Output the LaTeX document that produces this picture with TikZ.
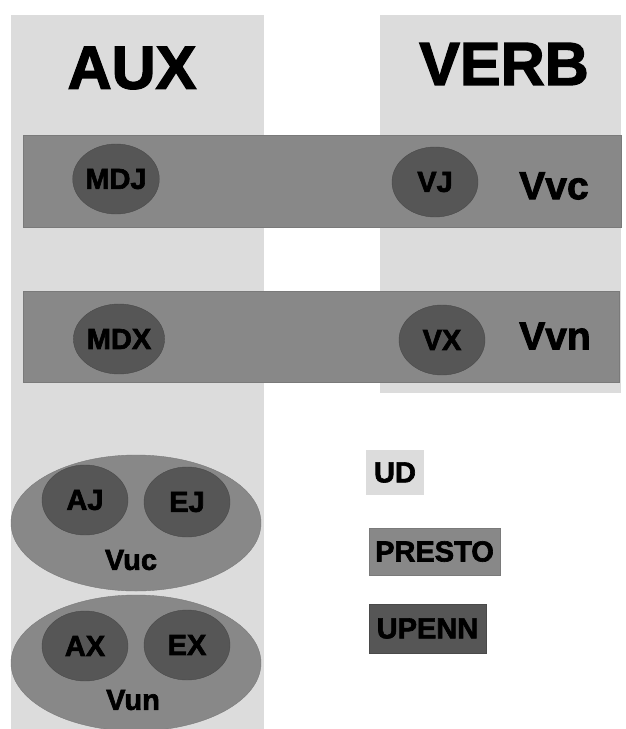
\documentclass[tikz,border=0pt]{standalone}
\usepackage{fontspec}
\setmainfont{Liberation Sans}[BoldFeatures={FakeBold=2.2}]
\usetikzlibrary{shapes.geometric}

\begin{document}
\begin{tikzpicture}[x=1pt,y=-1pt,
  ud_area/.style={shape=rectangle,fill=ud_gray,inner sep=0pt},
  presto_area/.style={shape=rectangle,draw=presto_line,fill=presto_gray,inner sep=0pt},
  presto_set/.style={shape=ellipse,draw=presto_line,fill=presto_gray,inner sep=0pt,minimum width=250pt,minimum height=136pt},
  upenn_tag/.style={shape=ellipse,draw=upenn_line,fill=upenn_gray,inner sep=0pt,minimum width=86pt,minimum height=70pt,font=\fontsize{29}{29}\selectfont\bfseries},
  head_txt/.style={font=\fontsize{61}{61}\selectfont\bfseries,inner sep=0pt},
  set_txt/.style={font=\fontsize{39}{39}\selectfont\bfseries,inner sep=0pt},
  sub_txt/.style={font=\fontsize{29}{29}\selectfont\bfseries,inner sep=0pt},
  key_box/.style={shape=rectangle,inner sep=0pt,font=\fontsize{29}{29}\selectfont\bfseries}]
\definecolor{ud_gray}{RGB}{220,220,220}
\definecolor{presto_gray}{RGB}{136,136,136}
\definecolor{presto_line}{RGB}{122,122,122}
\definecolor{upenn_gray}{RGB}{86,86,86}
\definecolor{upenn_line}{RGB}{74,74,74}
\useasboundingbox[fill=white] (0,0) rectangle (625,729);
% UD columns
\node[ud_area,minimum width=253pt,minimum height=720pt] (aux) at (137.5,375) {};
\node[ud_area,minimum width=241pt,minimum height=378pt] (verb) at (500.5,204) {};
\node[head_txt] (aux_txt) at (132,68) {AUX};
\node[head_txt] (verb_txt) at (504,64) {VERB};
% PRESTO bands
\node[presto_area,minimum width=598pt,minimum height=92pt] (vvc) at (322,181) {};
\node[presto_area,minimum width=596pt,minimum height=91pt] (vvn) at (321,336.5) {};
\node[set_txt] (vvc_txt) at (554,186) {Vvc};
\node[set_txt] (vvn_txt) at (555,336) {Vvn};
% PRESTO sets for the auxiliaries
\node[presto_set] (vuc) at (136,523) {};
\node[presto_set] (vun) at (136,663) {};
\node[sub_txt] (vuc_txt) at (131,560) {Vuc};
\node[sub_txt] (vun_txt) at (133,700) {Vun};
% UPENN tags
\node[upenn_tag] (mdj) at (116,179) {MDJ};
\node[upenn_tag] (vj) at (435,182) {VJ};
\node[upenn_tag] (mdx) at (119,339) {MDX};
\node[upenn_tag] (vx) at (442,340) {VX};
\node[upenn_tag] (aj) at (85,500) {AJ};
\node[upenn_tag] (ej) at (187,502) {EJ};
\node[upenn_tag] (ax) at (85,646) {AX};
\node[upenn_tag] (ex) at (187,645) {EX};
% key
\node[key_box,fill=ud_gray,minimum width=58pt,minimum height=45pt] (key_ud) at (395,472.5) {UD};
\node[key_box,fill=presto_gray,draw=presto_line,minimum width=131pt,minimum height=47pt] (key_presto) at (434.5,551.5) {PRESTO};
\node[key_box,fill=upenn_gray,draw=upenn_line,minimum width=117pt,minimum height=49pt] (key_upenn) at (427.5,628.5) {UPENN};
\end{tikzpicture}
\end{document}
